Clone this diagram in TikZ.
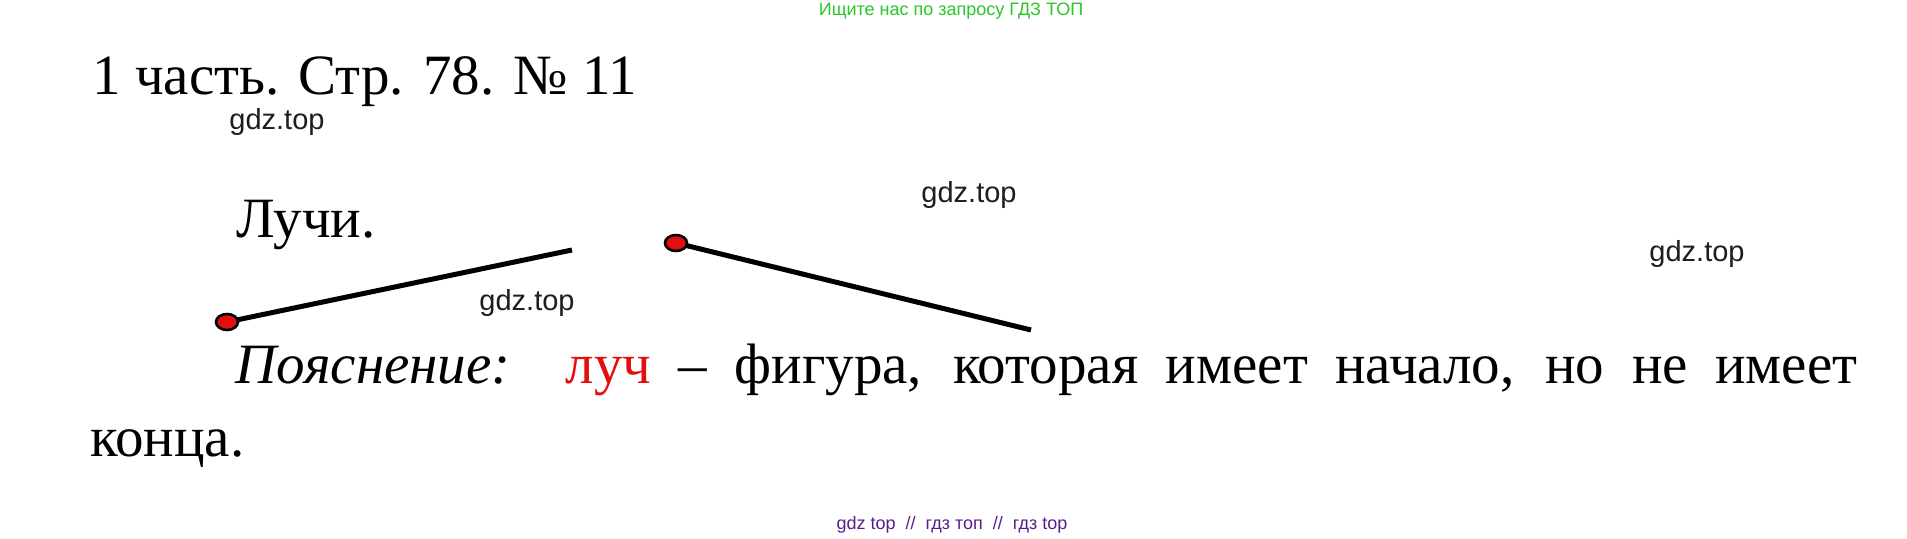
\documentclass[tikz,border=0pt]{standalone}
\usepackage{fontspec}
\usepackage{xcolor}
\usepackage{tikz}
\setmainfont{Liberation Serif}
\newfontfamily\wmfont{Liberation Sans}
\usetikzlibrary{shapes.geometric}
\definecolor{wmgreen}{RGB}{40,200,40}
\definecolor{wmpurple}{RGB}{90,30,140}
\definecolor{wmgray}{RGB}{30,30,30}
\definecolor{rayred}{RGB}{225,15,15}
\tikzset{ray dot/.style={ellipse, draw=black, line width=1.3pt, fill=rayred, minimum width=11pt, minimum height=8pt, inner sep=0pt},
main text/.style={font=\fontsize{28.5pt}{34pt}\selectfont, inner sep=0pt, anchor=base west}}

\begin{document}
\begin{tikzpicture}[x=0.5pt,y=-0.5pt,
                    watermark/.style={font=\wmfont\fontsize{14.5pt}{17pt}\selectfont,text=wmgray,inner sep=0pt}]

%BACKGROUND and size
 \path[fill=white] (0,0) rectangle (1907,539);

%TOP and BOTTOM captions
 \node[font=\wmfont\fontsize{9pt}{11pt}\selectfont,text=wmgreen,inner sep=0pt] (TopNote) at (951,11) {Ищите нас по запросу ГДЗ ТОП};
 \node[font=\wmfont\fontsize{9pt}{11pt}\selectfont,text=wmpurple,inner sep=0pt] (BottomNote) at (952,525) {gdz top \ // \ гдз топ \ // \ гдз top};

%Heading
 \node[main text] (Title) at (92,95) {1 часть. Стр. 78. № 11};
 \node[main text] (RaysLabel) at (236,238) {Лучи.};

%Watermarks
 \foreach \wx/\wy [count=\i] in {277/122, 969/195, 1697/254, 527/303}
 {\node[watermark] (Watermark\i) at (\wx,\wy) {gdz.top};}

%DRAWING the rays
 \coordinate (RayEnd1) at (572,250);
 \coordinate (RayEnd2) at (1031,330);
 \draw[line width=2.5pt] (227,322) -- (RayEnd1);
 \draw[line width=2.5pt] (676,243) -- (RayEnd2);
 \node[ray dot] (RayStart1) at (227,322) {};
 \node[ray dot] (RayStart2) at (676,243) {};

%Explanation
 \node[main text] (Expl) at (235,384)
   {\makebox[811pt][s]{\textit{Пояснение:}\ \ \textcolor{rayred}{луч} – фигура, которая имеет начало, но не имеет}};
 \node[main text] (ExplEnd) at (90,457) {конца.};

\end{tikzpicture}
\end{document}
